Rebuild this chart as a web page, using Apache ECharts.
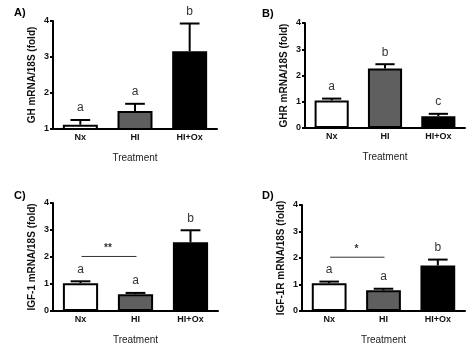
<!DOCTYPE html>
<html><head><meta charset="utf-8">
<script src="https://cdn.jsdelivr.net/npm/echarts@6/dist/echarts.min.js"></script>
<style>html,body{margin:0;padding:0;background:#fff}#c{width:474px;height:348px}</style>
</head><body><div id="c"></div>
<script>
const categories = ['Nx', 'HI', 'HI+Ox'];
const panelLabels = ['A)', 'B)', 'C)', 'D)'];
const yTitles = ['GH mRNA/18S (fold)', 'GHR mRNA/18S (fold)', 'IGF-1 mRNA/18S (fold)', 'IGF-1R mRNA/18S (fold)'];
const yMins = [1, 0, 0, 0];
const yMaxs = [4, 4, 4, 4];
const meansA = [1.12, 1.50, 3.16];
const errTopA = [1.25, 1.70, 3.93];
const lettersA = ['a', 'a', 'b'];
const meansB = [1.05, 2.27, 0.45];
const errTopB = [1.12, 2.43, 0.54];
const lettersB = ['a', 'b', 'c'];
const meansC = [1.03, 0.62, 2.55];
const errTopC = [1.10, 0.67, 2.99];
const lettersC = ['a', 'a', 'b'];
const meansD = [1.05, 0.78, 1.72];
const errTopD = [1.11, 0.84, 1.94];
const lettersD = ['a', 'a', 'b'];
// significance brackets: [fromIndex, toIndex, level, mark]
const sigC = [0, 1, 2.02, '**'];
const sigD = [0, 1, 2.03, '*'];

const means = [meansA, meansB, meansC, meansD];
const errTops = [errTopA, errTopB, errTopC, errTopD];
const letters = [lettersA, lettersB, lettersC, lettersD];
const sigs = [null, null, sigC, sigD];
const fills = ['#ffffff', '#5f5f5f', '#000000'];

const grids = [
  {left: 53, top: 21, width: 164, height: 108},
  {left: 305, top: 23, width: 160, height: 105},
  {left: 53, top: 203, width: 165, height: 108},
  {left: 302, top: 205, width: 163, height: 106}
];
const panelPos = [[14, 7], [262, 8], [14, 190], [262, 190]];
const FONT = 'Liberation Sans, Arial, sans-serif';

const option = {
  animation: false,
  backgroundColor: '#fff',
  textStyle: {fontFamily: FONT},
  grid: grids,
  xAxis: grids.map((g, i) => ({
    type: 'category', gridIndex: i, data: categories,
    axisLine: {lineStyle: {color: '#000', width: 2}},
    axisTick: {show: false},
    axisLabel: {color: '#111', fontWeight: 'bold', fontSize: 9, margin: 4, fontFamily: FONT},
    name: 'Treatment', nameLocation: 'middle', nameGap: 24,
    nameTextStyle: {color: '#222', fontSize: 10, fontFamily: FONT}
  })),
  yAxis: grids.map((g, i) => ({
    type: 'value', gridIndex: i, min: yMins[i], max: yMaxs[i], interval: 1,
    axisLine: {show: true, lineStyle: {color: '#000', width: 2}},
    axisTick: {show: true, length: 3, lineStyle: {color: '#000', width: 2}},
    splitLine: {show: false},
    axisLabel: {color: '#111', fontWeight: 'bold', fontSize: 9, margin: 4, fontFamily: FONT},
    name: yTitles[i], nameLocation: 'middle', nameGap: 16, nameRotate: 90,
    nameTextStyle: {color: '#111', fontWeight: 'bold', fontSize: 10, fontFamily: FONT}
  })),
  graphic: panelLabels.map((t, i) => ({
    type: 'text', left: panelPos[i][0], top: panelPos[i][1],
    style: {text: t, fill: '#000', font: 'bold 11px ' + FONT}
  })),
  series: []
};

for (let i = 0; i < 4; i++) {
  option.series.push({
    type: 'bar', xAxisIndex: i, yAxisIndex: i, barWidth: '64%',
    data: means[i].map((v, k) => ({
      value: v,
      itemStyle: {color: fills[k], borderColor: '#000', borderWidth: 2}
    })),
    z: 2
  });
  option.series.push({
    type: 'custom', xAxisIndex: i, yAxisIndex: i, z: 3,
    data: means[i].map((v, k) => [k, v, errTops[i][k]]),
    renderItem: (params, api) => {
      const k = api.value(0);
      const base = api.coord([k, api.value(1)]);
      const top = api.coord([k, api.value(2)]);
      const hw = api.size([1, 0])[0] * 0.18;
      return {
        type: 'group', children: [
          {type: 'line', shape: {x1: base[0], y1: base[1], x2: top[0], y2: top[1]}, style: {stroke: '#000', lineWidth: 2}},
          {type: 'line', shape: {x1: top[0] - hw, y1: top[1], x2: top[0] + hw, y2: top[1]}, style: {stroke: '#000', lineWidth: 2}},
          {type: 'text', x: top[0], y: top[1] - 6, style: {text: letters[i][k], fill: '#333', font: '12px ' + FONT, align: 'center', verticalAlign: 'bottom'}}
        ]
      };
    }
  });
  if (sigs[i]) {
    option.series.push({
      type: 'custom', xAxisIndex: i, yAxisIndex: i, z: 3,
      data: [[sigs[i][0], sigs[i][1], sigs[i][2]]],
      renderItem: (params, api) => {
        const p1 = api.coord([api.value(0), api.value(2)]);
        const p2 = api.coord([api.value(1), api.value(2)]);
        return {
          type: 'group', children: [
            {type: 'line', shape: {x1: p1[0] + 1, y1: p1[1], x2: p2[0] + 1, y2: p2[1]}, style: {stroke: '#333', lineWidth: 1}},
            {type: 'text', x: (p1[0] + p2[0]) / 2, y: p1[1] - 3, style: {text: sigs[i][3], fill: '#333', font: 'bold 10px ' + FONT, align: 'center', verticalAlign: 'bottom'}}
          ]
        };
      }
    });
  }
}

echarts.init(document.getElementById('c')).setOption(option);
</script>
</body></html>
